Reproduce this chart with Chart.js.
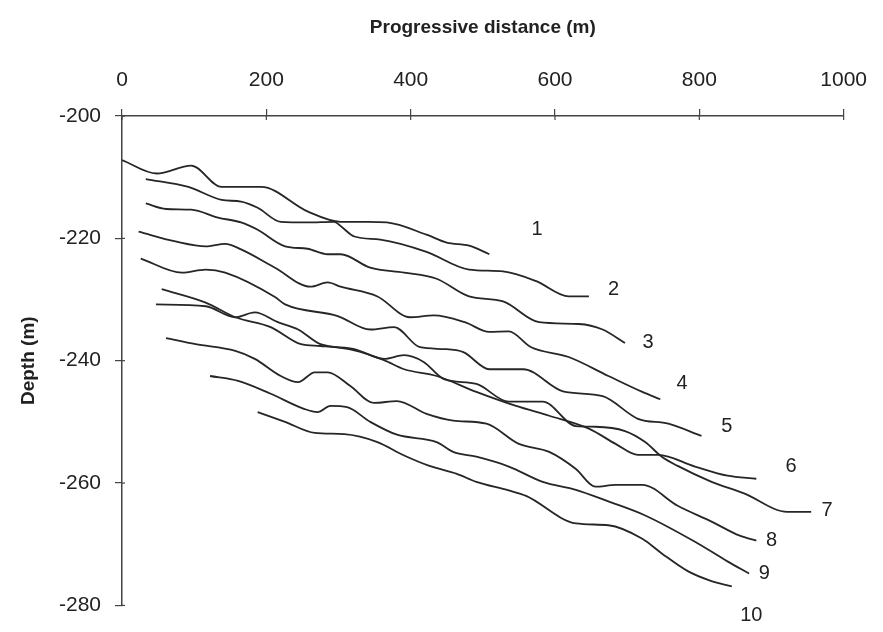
<!DOCTYPE html>
<html>
<head>
<meta charset="utf-8">
<script src="https://cdn.jsdelivr.net/npm/chart.js@4"></script>
<style>
  html, body { margin: 0; padding: 0; background: #fff; }
</style>
</head>
<body>
<canvas id="perfiles" width="883" height="632"></canvas>
<script>
    // Perfiles de profundidad (distancia en m, profundidad en m)
    const linea1X = [0, 48, 96, 138, 193, 257, 303, 340, 367, 422, 450, 481, 509];
    const linea1Z = [-207.2, -209.4, -208.1, -211.6, -211.6, -215.6, -217.3, -217.3, -217.4, -219.4, -220.7, -221.2, -222.6];

    const linea2X = [33, 92, 138, 165, 188, 220, 257, 294, 305, 322, 358, 422, 481, 528, 574, 619, 647];
    const linea2Z = [-210.3, -211.6, -213.7, -214.0, -215.0, -217.3, -217.4, -217.3, -218.2, -219.7, -220.2, -222.2, -225.1, -225.4, -227.0, -229.5, -229.5];

    const linea3X = [33, 61, 96, 133, 165, 188, 226, 257, 285, 303, 344, 391, 436, 481, 528, 578, 633, 666, 697];
    const linea3Z = [-214.3, -215.2, -215.3, -216.6, -217.4, -218.6, -221.3, -221.7, -222.6, -222.6, -224.8, -225.6, -226.6, -229.5, -230.3, -233.7, -234.0, -234.9, -237.1];

    const linea4X = [23, 74, 116, 143, 165, 212, 261, 285, 303, 354, 399, 432, 475, 509, 536, 567, 619, 674, 721, 746];
    const linea4Z = [-218.9, -220.5, -221.3, -220.9, -221.8, -224.8, -227.9, -227.2, -227.9, -229.5, -232.9, -232.6, -233.7, -235.3, -235.2, -237.8, -239.4, -242.5, -245.1, -246.3];

    const linea5X = [26, 83, 116, 143, 212, 226, 299, 344, 377, 413, 446, 473, 509, 556, 611, 666, 715, 757, 803];
    const linea5Z = [-223.3, -225.6, -225.1, -225.6, -229.6, -230.8, -232.7, -234.9, -234.5, -237.8, -238.1, -238.6, -241.4, -241.4, -245.0, -245.8, -249.5, -250.3, -252.3];

    const linea6X = [55, 116, 157, 206, 248, 275, 322, 363, 391, 436, 491, 546, 592, 647, 684, 715, 743, 794, 839, 879];
    const linea6Z = [-228.3, -230.5, -232.9, -234.5, -237.3, -237.6, -238.3, -239.9, -241.4, -242.5, -245.1, -247.4, -249.0, -251.1, -253.6, -255.4, -255.4, -257.3, -258.8, -259.3];

    const linea7X = [47, 116, 157, 184, 216, 244, 275, 322, 363, 391, 418, 446, 491, 536, 583, 629, 656, 697, 725, 748, 770, 817, 862, 922, 955];
    const linea7Z = [-230.8, -231.1, -232.9, -232.1, -233.7, -234.9, -237.3, -238.1, -239.7, -239.1, -240.2, -243.0, -243.8, -246.7, -246.7, -250.7, -250.8, -251.5, -253.3, -255.7, -257.2, -259.8, -261.7, -264.7, -264.7];

    const linea8X = [61, 102, 157, 184, 220, 244, 267, 285, 316, 349, 381, 422, 459, 505, 550, 592, 629, 656, 684, 721, 770, 817, 856, 879];
    const linea8Z = [-236.3, -237.3, -238.4, -239.7, -242.5, -243.5, -241.9, -241.9, -244.1, -246.9, -246.6, -248.7, -249.8, -250.3, -253.6, -254.9, -257.7, -260.6, -260.3, -260.3, -263.7, -266.3, -268.6, -269.4];

    const linea9X = [122, 161, 206, 253, 271, 289, 312, 344, 381, 436, 459, 491, 536, 583, 629, 674, 725, 794, 839, 869];
    const linea9Z = [-242.5, -243.3, -245.4, -247.9, -248.4, -247.4, -247.6, -250.0, -252.1, -253.3, -254.9, -255.7, -257.3, -259.8, -261.1, -263.0, -265.3, -269.6, -272.8, -274.8];

    const linea10X = [188, 226, 267, 308, 354, 391, 426, 464, 491, 536, 560, 629, 674, 721, 748, 784, 814, 845];
    const linea10Z = [-248.4, -250.0, -251.8, -252.0, -253.3, -255.5, -257.2, -258.5, -259.8, -261.2, -262.1, -266.6, -266.9, -269.1, -271.5, -274.4, -275.9, -276.9];

    // Número de cada perfil, junto al final de la línea
    const etiquetaTexto = ['1', '2', '3', '4', '5', '6', '7', '8', '9', '10'];
    const etiquetaX = [575, 681, 729, 776, 838, 927, 977, 900, 890, 872];
    const etiquetaZ = [-218.6, -228.3, -237.0, -243.8, -250.8, -257.3, -264.5, -269.4, -274.8, -281.6];

    // Ejes
    const ticksX = [0, 200, 400, 600, 800, 1000];
    const ticksZ = [-200, -220, -240, -260, -280];

    const lineas = [
        [linea1X, linea1Z], [linea2X, linea2Z], [linea3X, linea3Z], [linea4X, linea4Z], [linea5X, linea5Z],
        [linea6X, linea6Z], [linea7X, linea7Z], [linea8X, linea8Z], [linea9X, linea9Z], [linea10X, linea10Z]
    ];

    const fuente = '"Liberation Sans", Arial, sans-serif';
    const colorLinea = '#262626';
    const colorEje = '#444';

    // Dibuja los números de perfil y la parte interior de las marcas de los ejes
    const etiquetasPlugin = {
        id: 'etiquetas',
        afterDraw(chart) {
            const { ctx, chartArea } = chart;
            const x = chart.scales.x;
            const y = chart.scales.y;
            ctx.save();
            ctx.strokeStyle = colorEje;
            ctx.lineWidth = 1.2;
            ticksX.forEach(v => {
                const px = x.getPixelForValue(v);
                ctx.beginPath();
                ctx.moveTo(px, chartArea.top);
                ctx.lineTo(px, chartArea.top + 4);
                ctx.stroke();
            });
            ticksZ.forEach(v => {
                const py = y.getPixelForValue(v);
                ctx.beginPath();
                ctx.moveTo(chartArea.left, py);
                ctx.lineTo(chartArea.left + 3, py);
                ctx.stroke();
            });
            ctx.font = '20px ' + fuente;
            ctx.fillStyle = '#222';
            ctx.textAlign = 'center';
            ctx.textBaseline = 'middle';
            etiquetaTexto.forEach((t, i) => {
                ctx.fillText(t, x.getPixelForValue(etiquetaX[i]), y.getPixelForValue(etiquetaZ[i]));
            });
            ctx.restore();
        }
    };

    new Chart(document.getElementById('perfiles'), {
        type: 'scatter',
        data: {
            datasets: lineas.map(([xs, zs], i) => ({
                label: etiquetaTexto[i],
                data: xs.map((v, j) => ({ x: v, y: zs[j] })),
                showLine: true,
                borderColor: colorLinea,
                borderWidth: 1.8,
                pointRadius: 0,
                cubicInterpolationMode: 'monotone'
            }))
        },
        options: {
            responsive: false,
            animation: false,
            layout: { padding: { left: 0, top: 0, right: 35, bottom: 25 } },
            plugins: {
                legend: { display: false },
                tooltip: { enabled: false }
            },
            scales: {
                x: {
                    type: 'linear',
                    position: 'top',
                    min: 0,
                    max: 1000,
                    afterBuildTicks: s => { s.ticks = ticksX.map(v => ({ value: v })); },
                    afterFit: s => { s.height = 116; },
                    grid: { drawOnChartArea: false, drawTicks: true, tickLength: 7, color: colorEje, lineWidth: 1.2 },
                    border: { display: true, color: colorEje, width: 1.5 },
                    ticks: {
                        color: '#222', padding: 16, maxRotation: 0,
                        font: { family: fuente, size: 21 },
                        callback: v => String(v)
                    },
                    title: {
                        display: true,
                        text: 'Progressive distance (m)',
                        color: '#222',
                        padding: { top: 16, bottom: 0 },
                        font: { family: fuente, size: 19, weight: 'bold' }
                    }
                },
                y: {
                    type: 'linear',
                    min: -280,
                    max: -200,
                    afterBuildTicks: s => { s.ticks = ticksZ.map(v => ({ value: v })); },
                    afterFit: s => { s.width = 122; },
                    grid: { drawOnChartArea: false, drawTicks: true, tickLength: 7, color: colorEje, lineWidth: 1.2 },
                    border: { display: true, color: colorEje, width: 1.5 },
                    ticks: {
                        color: '#222', padding: 14,
                        font: { family: fuente, size: 21 },
                        callback: v => String(v)
                    },
                    title: {
                        display: true,
                        text: 'Depth (m)',
                        color: '#222',
                        padding: { top: 17, bottom: 0 },
                        font: { family: fuente, size: 19, weight: 'bold' }
                    }
                }
            }
        },
        plugins: [etiquetasPlugin]
    });
</script>
</body>
</html>
